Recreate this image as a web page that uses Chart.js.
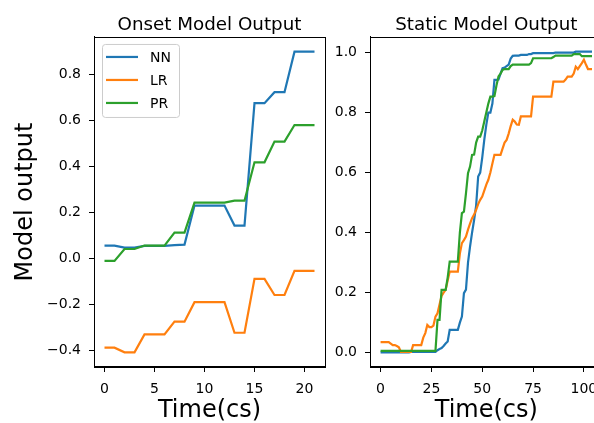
<!DOCTYPE html>
<html>
<head>
<meta charset="utf-8">
<script src="https://cdn.jsdelivr.net/npm/chart.js@4.4.1/dist/chart.umd.min.js"></script>
<style>
  html, body { margin: 0; padding: 0; background: #fff; overflow: hidden; width: 594px; height: 423px; }
  canvas { position: absolute; top: 0; }
  #onset { left: 0; }
  #static { left: 330px; }
</style>
</head>
<body>
<canvas id="onset" width="340" height="423"></canvas>
<canvas id="static" width="290" height="423"></canvas>
<script>
const seriesLabels = ['NN', 'LR', 'PR'];
const seriesColors = ['#1f77b4', '#ff7f0e', '#2ca02c'];

// Onset model (one point per cs)
const onsetTime = [0, 1, 2, 3, 4, 5, 6, 7, 8, 9, 10, 11, 12, 13, 14, 15, 16, 17, 18, 19, 20, 21];
const onsetNN = [0.056, 0.056, 0.047, 0.047, 0.055, 0.055, 0.055, 0.058, 0.06, 0.23, 0.23, 0.23, 0.23, 0.143, 0.143, 0.675, 0.675, 0.723, 0.723, 0.899, 0.899, 0.899];
const onsetLR = [-0.388, -0.388, -0.408, -0.408, -0.33, -0.33, -0.33, -0.275, -0.275, -0.19, -0.19, -0.19, -0.19, -0.323, -0.323, -0.089, -0.089, -0.159, -0.159, -0.054, -0.054, -0.054];
const onsetPR = [-0.011, -0.011, 0.041, 0.041, 0.056, 0.056, 0.056, 0.112, 0.112, 0.243, 0.243, 0.243, 0.243, 0.251, 0.251, 0.418, 0.418, 0.508, 0.508, 0.58, 0.58, 0.58];
const onsetXTicks = [0, 5, 10, 15, 20];
const onsetYTicks = [-0.4, -0.2, 0, 0.2, 0.4, 0.6, 0.8];

// Static model
const staticTime = [
  0, 1, 2, 3, 4, 5, 6, 7, 8, 9, 10, 11, 12, 13, 14, 15, 16, 17, 18, 19,
  20, 21, 22, 23, 24, 25, 26, 27, 28, 29, 30, 31, 32, 33, 34, 35, 36, 37, 38, 39,
  40, 41, 42, 43, 44, 45, 46, 47, 48, 49, 50, 51, 52, 53, 54, 55, 56, 57, 58, 59,
  60, 61, 62, 63, 64, 65, 66, 67, 68, 69, 70, 71, 72, 73, 74, 75, 76, 77, 78, 79,
  80, 81, 82, 83, 84, 85, 86, 87, 88, 89, 90, 91, 92, 93, 94, 95, 96, 97, 98, 99,
  100, 101, 102, 103, 104];
const staticNN = [
  0.001, 0.001, 0.001, 0.001, 0.001, 0.001, 0.001, 0.001, 0.001, 0.001,
  0.001, 0.001, 0.001, 0.001, 0.001, 0.002, 0.002, 0.002, 0.002, 0.002,
  0.002, 0.002, 0.002, 0.002, 0.002, 0.002, 0.002, 0.002, 0.008, 0.012,
  0.015, 0.022, 0.03, 0.037, 0.076, 0.076, 0.076, 0.076, 0.076, 0.1,
  0.12, 0.198, 0.21, 0.3, 0.353, 0.4, 0.442, 0.49, 0.587, 0.6,
  0.65, 0.709, 0.759, 0.8, 0.8, 0.83, 0.909, 0.909, 0.91, 0.93,
  0.948, 0.95, 0.955, 0.96, 0.98, 0.989, 0.99, 0.99, 0.99, 0.992,
  0.992, 0.992, 0.992, 0.995, 0.995, 0.998, 0.998, 0.998, 0.998, 0.998,
  0.998, 0.998, 0.998, 0.998, 0.998, 0.998, 1.0, 1.0, 1.0, 1.0,
  1.0, 1.0, 1.0, 1.0, 1.0, 1.0, 1.003, 1.003, 1.003, 1.003,
  1.003, 1.003, 1.003, 1.003, 1.003];
const staticLR = [
  0.035, 0.035, 0.035, 0.035, 0.035, 0.03, 0.025, 0.025, 0.022, 0.018,
  0.002, 0.002, 0.002, 0.002, 0.002, 0.002, 0.025, 0.025, 0.025, 0.025,
  0.025, 0.05, 0.065, 0.092, 0.085, 0.085, 0.09, 0.12, 0.131, 0.16,
  0.189, 0.2, 0.209, 0.24, 0.27, 0.27, 0.27, 0.27, 0.27, 0.33,
  0.365, 0.375, 0.387, 0.41, 0.43, 0.448, 0.46, 0.476, 0.495, 0.509,
  0.52, 0.54, 0.56, 0.576, 0.6, 0.63, 0.659, 0.659, 0.659, 0.659,
  0.68, 0.7, 0.709, 0.73, 0.755, 0.776, 0.77, 0.76, 0.759, 0.787,
  0.787, 0.787, 0.787, 0.787, 0.787, 0.853, 0.853, 0.853, 0.853, 0.853,
  0.853, 0.853, 0.853, 0.853, 0.853, 0.903, 0.903, 0.903, 0.903, 0.903,
  0.903, 0.91, 0.92, 0.92, 0.92, 0.93, 0.953, 0.945, 0.955, 0.965,
  0.976, 0.96, 0.945, 0.945, 0.945];
const staticPR = [
  0.006, 0.006, 0.006, 0.006, 0.006, 0.006, 0.006, 0.006, 0.006, 0.006,
  0.006, 0.006, 0.006, 0.006, 0.006, 0.006, 0.006, 0.006, 0.006, 0.006,
  0.006, 0.006, 0.006, 0.006, 0.006, 0.006, 0.006, 0.006, 0.109, 0.109,
  0.209, 0.209, 0.209, 0.25, 0.303, 0.303, 0.303, 0.303, 0.303, 0.4,
  0.465, 0.47, 0.531, 0.598, 0.62, 0.659, 0.66, 0.7, 0.72, 0.72,
  0.74, 0.77, 0.8, 0.83, 0.853, 0.853, 0.855, 0.89, 0.92, 0.93,
  0.942, 0.945, 0.945, 0.945, 0.955, 0.96, 0.96, 0.96, 0.96, 0.96,
  0.96, 0.96, 0.96, 0.96, 0.965, 0.981, 0.981, 0.981, 0.981, 0.981,
  0.981, 0.981, 0.981, 0.981, 0.981, 0.985, 0.99, 0.99, 0.99, 0.99,
  0.99, 0.99, 0.99, 0.99, 0.99, 0.995, 0.995, 0.995, 0.995, 0.988,
  0.988, 0.988, 0.988, 0.988, 0.988];
const staticXTicks = [0, 25, 50, 75, 100];
const staticYTicks = [0, 0.2, 0.4, 0.6, 0.8, 1.0];

const FONT = 'DejaVu Sans';

// matplotlib style full box around the axes
const frame = {
  id: 'frame',
  afterDraw(chart) {
    const { ctx, chartArea: a } = chart;
    ctx.save();
    ctx.strokeStyle = '#000';
    ctx.lineWidth = 1;
    ctx.strokeRect(Math.round(a.left) + 0.5, Math.round(a.top) + 0.5,
      Math.round(a.right - a.left), Math.round(a.bottom - a.top));
    ctx.restore();
  }
};

// legend box in the upper left of the axes
const boxLegend = {
  id: 'boxLegend',
  afterDatasetsDraw(chart, args, opts) {
    if (!opts.show) return;
    const { ctx, chartArea: a } = chart;
    const x = a.left + 8, y = a.top + 7, w = 77, h = 73;
    ctx.save();
    ctx.beginPath();
    ctx.roundRect(x + 0.5, y + 0.5, w, h, 3);
    ctx.fillStyle = 'rgba(255,255,255,0.8)';
    ctx.fill();
    ctx.strokeStyle = '#cccccc';
    ctx.lineWidth = 1;
    ctx.stroke();
    ctx.font = '14px "' + FONT + '"';
    ctx.textBaseline = 'middle';
    seriesLabels.forEach((label, i) => {
      const ry = y + 13 + i * 23;
      ctx.strokeStyle = seriesColors[i];
      ctx.lineWidth = 2.2;
      ctx.beginPath();
      ctx.moveTo(x + 4, ry);
      ctx.lineTo(x + 36, ry);
      ctx.stroke();
      ctx.fillStyle = '#000';
      ctx.fillText(label, x + 48, ry + 1);
    });
    ctx.restore();
  }
};

function makeDatasets(time, series) {
  return series.map((vals, i) => ({
    label: seriesLabels[i],
    data: time.map((t, k) => ({ x: t, y: vals[k] })),
    borderColor: seriesColors[i],
    backgroundColor: seriesColors[i],
    borderWidth: 2.2,
    pointRadius: 0,
    tension: 0,
    order: series.length - 1 - i
  }));
}

function fixTicks(list) {
  return scale => { scale.ticks = list.map(v => ({ value: v })); };
}

function zeroPad(scale) {
  scale.paddingTop = 0; scale.paddingBottom = 0;
  scale.paddingLeft = 0; scale.paddingRight = 0;
}

function makeChart(id, cfg) {
  return new Chart(document.getElementById(id), {
    type: 'line',
    data: { datasets: makeDatasets(cfg.time, cfg.series) },
    plugins: [frame, boxLegend],
    options: {
      responsive: false,
      animation: false,
      layout: { padding: { left: 0, right: cfg.rightPad, top: 0, bottom: 0 } },
      plugins: {
        legend: { display: false },
        tooltip: { enabled: false },
        boxLegend: { show: cfg.legend },
        title: {
          display: true,
          text: cfg.title,
          fullSize: false,
          color: '#000',
          font: { family: FONT, size: 18.3, weight: 'normal', lineHeight: 1.2 },
          padding: { top: 14, bottom: 1 }
        }
      },
      scales: {
        x: {
          type: 'linear',
          min: cfg.xMin, max: cfg.xMax,
          afterBuildTicks: fixTicks(cfg.xTicks),
          afterFit: s => { s.height = 56; zeroPad(s); },
          border: { display: true, color: '#000', width: 1 },
          grid: { display: true, drawOnChartArea: false, drawTicks: true, tickLength: 5, color: '#000' },
          ticks: {
            color: '#000', padding: 9, maxRotation: 0, autoSkip: false,
            font: { family: FONT, size: 14 },
            callback: v => String(v)
          },
          title: {
            display: true, text: 'Time(cs)', color: '#000',
            font: { family: FONT, size: 24, lineHeight: 1.05 },
            padding: { top: 0, bottom: 0 }
          }
        },
        y: {
          min: cfg.yMin, max: cfg.yMax,
          afterBuildTicks: fixTicks(cfg.yTicks),
          afterFit: s => { s.width = cfg.yWidth; zeroPad(s); },
          border: { display: true, color: '#000', width: 1 },
          grid: { display: true, drawOnChartArea: false, drawTicks: true, tickLength: 5, color: '#000' },
          ticks: {
            color: '#000', padding: 8, autoSkip: false,
            font: { family: FONT, size: 14 },
            callback: v => (v < 0 ? '\u2212' : '') + Math.abs(v).toFixed(1)
          },
          title: {
            display: !!cfg.yTitle, text: cfg.yTitle || '', color: '#000',
            font: { family: FONT, size: 24, lineHeight: 1.2 },
            padding: { top: 11, bottom: 0 }
          }
        }
      }
    }
  });
}

makeChart('onset', {
  title: 'Onset Model Output',
  time: onsetTime, series: [onsetNN, onsetLR, onsetPR],
  xMin: -1.05, xMax: 22.05, xTicks: onsetXTicks,
  yMin: -0.472, yMax: 0.963, yTicks: onsetYTicks,
  yWidth: 94, rightPad: 15, legend: true, yTitle: 'Model output'
});

makeChart('static', {
  title: 'Static Model Output',
  time: staticTime, series: [staticNN, staticLR, staticPR],
  xMin: -5.2, xMax: 109.2, xTicks: staticXTicks,
  yMin: -0.048, yMax: 1.052, yTicks: staticYTicks,
  yWidth: 40, rightPad: 17.4, legend: false
});
</script>
</body>
</html>
